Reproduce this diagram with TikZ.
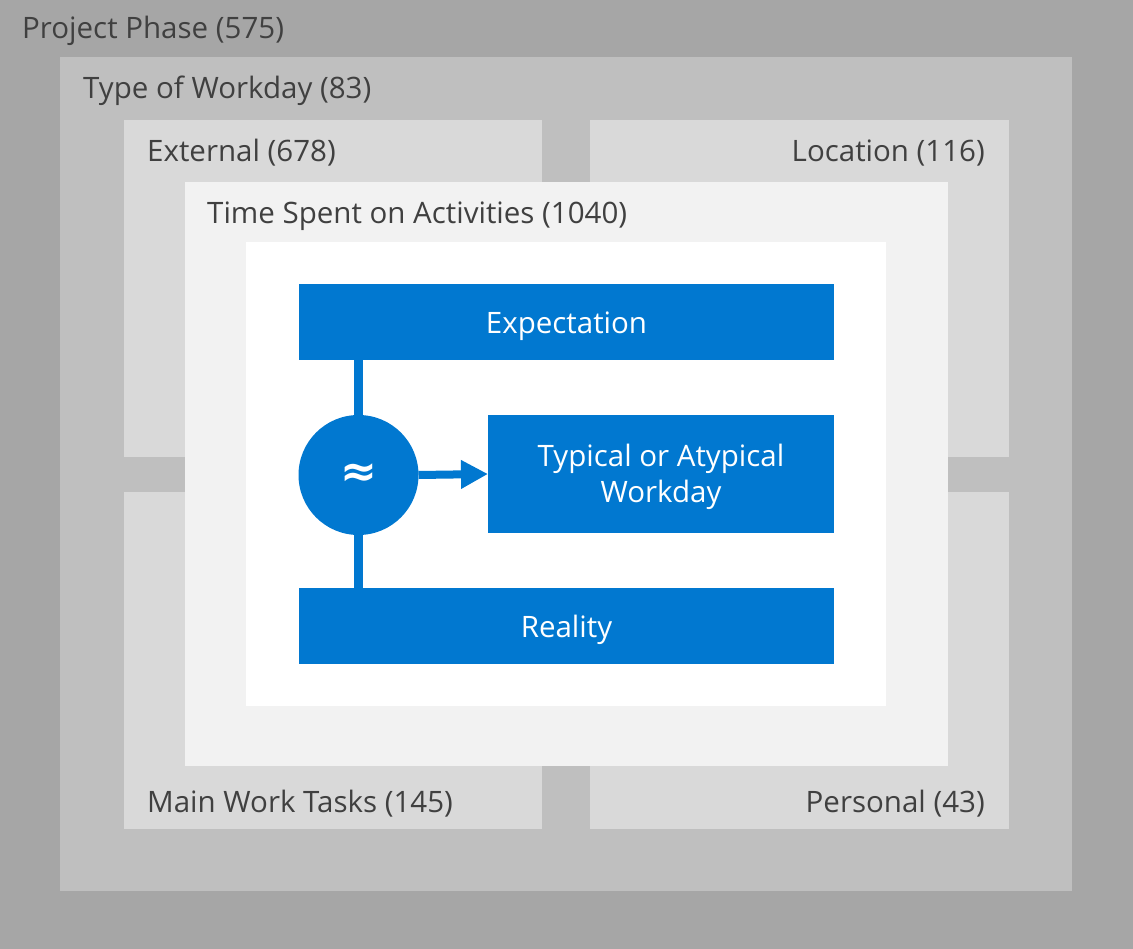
\documentclass[tikz,border=0pt]{standalone}
\usepackage{fontspec}
\setmainfont{Open Sans}
\newfontfamily\symfnt{DejaVu Sans}
\usetikzlibrary{arrows.meta}
\definecolor{lvA}{HTML}{A6A6A6}
\definecolor{lvB}{HTML}{BFBFBF}
\definecolor{lvC}{HTML}{D9D9D9}
\definecolor{lvD}{HTML}{F2F2F2}
\definecolor{msblue}{HTML}{0178D0}
\definecolor{txtgray}{HTML}{404040}
\tikzset{
  panel/.style={draw=none, inner sep=0pt, outer sep=0pt, anchor=north west},
  lbl/.style={text=txtgray, font=\fontsize{29.5}{34}\selectfont, inner sep=0pt},
  boxbase/.style={fill=msblue, draw=none, inner sep=0pt, outer sep=0pt, text=white,
    font=\fontsize{29.5}{36}\selectfont},
  bluebox/.style={boxbase, text height=23.5pt, text depth=0pt},
  link/.style={draw=msblue, line width=9pt},
}
\begin{document}
\begin{tikzpicture}[x=1pt,y=-1pt]
\useasboundingbox (0,0) rectangle (1133,949);
\fill[lvA] (0,0) rectangle (1133,949);
\node[panel, fill=lvB, minimum width=1012pt, minimum height=834pt] (tow) at (60,57) {};
\node[panel, fill=lvC, minimum width=418pt, minimum height=337pt] (ext) at (124,120) {};
\node[panel, fill=lvC, minimum width=419pt, minimum height=337pt] (loc) at (590,120) {};
\node[panel, fill=lvC, minimum width=418pt, minimum height=337pt] (mwt) at (124,492) {};
\node[panel, fill=lvC, minimum width=419pt, minimum height=337pt] (pers) at (590,492) {};
\node[panel, fill=lvD, minimum width=763pt, minimum height=584pt] (tsa) at (185,182) {};
\node[panel, fill=white, minimum width=640pt, minimum height=464pt] (inner) at (246,242) {};

\node[lbl, anchor=base west] (l1) at (22,39) {Project Phase (575)};
\node[lbl, anchor=base west] (l2) at (83,99) {Type of Workday (83)};
\node[lbl, anchor=base west] (l3) at (147,162) {External (678)};
\node[lbl, anchor=base east] (l4) at (985,162) {Location (116)};
\node[lbl, anchor=base west] (l5) at (207,224) {Time Spent on Activities (1040)};
\node[lbl, anchor=base west] (l6) at (147,812) {Main Work Tasks (145)};
\node[lbl, anchor=base east] (l7) at (985,812) {Personal (43)};

\node[bluebox, minimum width=535pt, minimum height=76pt] (exp) at (566.5,322) {Expectation};
\node[boxbase, minimum width=346pt, minimum height=118pt] (typ) at (661,474)
  {\parbox{340pt}{\centering\rule{0pt}{29pt}Typical or Atypical\\Workday}};
\node[bluebox, minimum width=535pt, minimum height=76pt] (real) at (566.5,626) {Reality};
\node[circle, fill=msblue, minimum size=120pt, inner sep=0pt, outer sep=0pt, text=white, font=\symfnt\bfseries\fontsize{44}{44}\selectfont] (circ) at (358.5,475) {≈};

\draw[link] (circ.north) -- (circ.north |- exp.south);
\draw[link] (circ.south) -- (circ.south |- real.north);
\draw[draw=msblue, line width=8pt, -{Triangle[length=27pt,width=27pt]}] (circ.east) -- (typ.west);
\end{tikzpicture}
\end{document}
